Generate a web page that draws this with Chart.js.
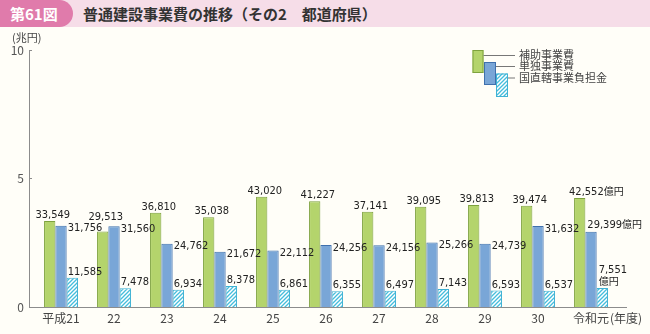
<!DOCTYPE html>
<html lang="ja">
<head>
<meta charset="utf-8">
<title>普通建設事業費の推移（その2　都道府県）</title>
<script src="https://cdn.jsdelivr.net/npm/chart.js@4.4.1/dist/chart.umd.min.js"></script>
<style>
    html, body { margin: 0; padding: 0; background: #fffef8; }
    #wrap { position: relative; width: 650px; height: 334px; overflow: hidden; }
    #head { position: absolute; left: 0; top: 0; width: 650px; height: 27px; background: #f6dde8; z-index: 2; }
    #fig {
        position: absolute; left: 0; top: 0; width: 73px; height: 27px; box-sizing: border-box;
        padding-left: 10px; background: #e07bab; border-radius: 0 14px 14px 0;
        color: #fff; font: bold 15px "Noto Sans CJK JP"; line-height: 27px;
    }
    #ttl { position: absolute; left: 83px; top: 0; color: #333; font: bold 15px "Noto Sans CJK JP"; line-height: 27px; }
    #chart { position: absolute; left: 0; top: 0; }
</style>
</head>
<body>
<div id="wrap">
    <div id="head">
        <div id="fig">第61図</div>
        <div id="ttl">普通建設事業費の推移（その2　都道府県）</div>
    </div>
    <canvas id="chart" width="650" height="334"></canvas>
</div>
<script>
"use strict";

// 年度
const categories = ["平成21", "22", "23", "24", "25", "26", "27", "28", "29", "30", "令和元"];
// 億円
const hojo = [33549, 29513, 36810, 35038, 43020, 41227, 37141, 39095, 39813, 39474, 42552];
const tandoku = [31756, 31560, 24762, 21672, 22112, 24256, 24156, 25266, 24739, 31632, 29399];
const chokkatsu = [11585, 7478, 6934, 8378, 6861, 6355, 6497, 7143, 6593, 6537, 7551];
const seriesNames = ["補助事業費", "単独事業費", "国直轄事業負担金"];
// 兆円
const yTicks = [0, 5, 10];

const NUM_FONT = '11px "Liberation Sans Narrow", "DejaVu Sans Condensed", sans-serif';
const JP_FONT = '"Noto Sans CJK JP", sans-serif';

// diagonal stripes for 国直轄事業負担金
const makeHatch = () => {
    const c = document.createElement("canvas");
    c.width = c.height = 4;
    const g = c.getContext("2d");
    g.fillStyle = "#ffffff";
    g.fillRect(0, 0, 4, 4);
    g.strokeStyle = "#45bddc";
    g.lineWidth = 1.3;
    g.beginPath();
    g.moveTo(-1, 5); g.lineTo(5, -1);
    g.moveTo(-1, 1); g.lineTo(1, -1);
    g.moveTo(3, 5); g.lineTo(5, 3);
    g.stroke();
    return g.createPattern(c, "repeat");
};

const toPoints = arr => arr.map((v, i) => ({ x: i, y: v }));

// 数値ラベル（最終年度のみ単位付き）
const valueLabels = {
    id: "valueLabels",
    afterDatasetsDraw(chart) {
        const ctx = chart.ctx;
        ctx.save();
        ctx.fillStyle = "#222";
        ctx.textBaseline = "alphabetic";
        ctx.textAlign = "left";
        const put = (num, unit, x, y, align) => {
            ctx.font = NUM_FONT;
            const w1 = ctx.measureText(num).width;
            ctx.font = "10px " + JP_FONT;
            const w2 = unit ? ctx.measureText(unit).width : 0;
            const sx = align === "center" ? x - (w1 + w2) / 2 : x;
            ctx.font = NUM_FONT;
            ctx.fillText(num, sx, y);
            if (unit) {
                ctx.font = "10px " + JP_FONT;
                ctx.fillText(unit, sx + w1, y);
            }
        };
        const blueBars = chart.getDatasetMeta(1).data;
        chart.data.datasets.forEach((ds, di) => {
            chart.getDatasetMeta(di).data.forEach((bar, i) => {
                const last = i === categories.length - 1;
                const txt = ds.data[i].y.toLocaleString("en-US");
                const left = bar.x - bar.width / 2;
                const right = bar.x + bar.width / 2;
                if (di === 0) {
                    // 単独の方が高い年はその数値の上へ逃がす
                    const top = Math.min(bar.y, blueBars[i].y - 3);
                    if (last) put(txt, "億円", left - 5, top - 3, "left");
                    else put(txt, "", bar.x + 3, top - 3, "center");
                } else if (di === 1) {
                    if (last) put(txt, "億円", left + 2, bar.y - 4, "left");
                    else put(txt, "", right + 1, bar.y + 5.5, "left");
                } else if (last) {
                    put(txt, "", left + 2, bar.y - 15, "left");
                    ctx.font = "10px " + JP_FONT;
                    ctx.fillText("億円", left + 2, bar.y - 3);
                } else {
                    put(txt, "", left + 1, bar.y - 3, "left");
                }
            });
        });
        ctx.restore();
    }
};

// 凡例・単位・（年度）
const extras = {
    id: "extras",
    afterDraw(chart) {
        const ctx = chart.ctx;
        ctx.save();
        ctx.fillStyle = "#444";
        ctx.font = "11px " + JP_FONT;
        ctx.textBaseline = "middle";
        ctx.textAlign = "left";
        ctx.fillText("(兆円)", 12, 38);

        // 年度
        const xs = chart.scales.x;
        const lastX = xs.getPixelForValue(categories.length - 1);
        ctx.font = "12px " + JP_FONT;
        const w = ctx.measureText(categories[categories.length - 1]).width;
        ctx.fillText("(年度)", lastX + w / 2 + 1, xs.top + 4 + 7.2);

        // legend
        const boxes = [
            { x: 472.5, y: 50, w: 11, h: 23, ly: 55 },
            { x: 484, y: 62, w: 12, h: 23, ly: 66 },
            { x: 496, y: 73.5, w: 12, h: 23.5, ly: 77.5 }
        ];
        ctx.font = "11px " + JP_FONT;
        boxes.forEach((b, i) => {
            const ds = chart.data.datasets[i];
            ctx.fillStyle = ds.backgroundColor;
            ctx.fillRect(b.x, b.y, b.w, b.h);
            ctx.strokeStyle = ds.borderColor;
            ctx.lineWidth = 1;
            ctx.strokeRect(b.x + 0.5, b.y + 0.5, b.w - 1, b.h - 1);
            ctx.strokeStyle = "#777";
            ctx.beginPath();
            ctx.moveTo(b.x + b.w, b.ly + 0.5);
            ctx.lineTo(515, b.ly + 0.5);
            ctx.stroke();
            ctx.fillStyle = "#444";
            ctx.fillText(seriesNames[i], 519, b.ly);
        });
        ctx.restore();
    }
};

const renderChart = () => {
    const ctx = document.getElementById("chart");
    new Chart(ctx, {
        type: "bar",
        data: {
            datasets: [
                { label: seriesNames[0], data: toPoints(hojo), backgroundColor: "#b4d46c", borderColor: "#7ea23e", borderWidth: 1 },
                { label: seriesNames[1], data: toPoints(tandoku), backgroundColor: "#79a6d7", borderColor: "#3f70ad", borderWidth: 1 },
                { label: seriesNames[2], data: toPoints(chokkatsu), backgroundColor: makeHatch(), borderColor: "#3fb2d4", borderWidth: 1 }
            ]
        },
        options: {
            responsive: false,
            animation: false,
            events: [],
            categoryPercentage: 0.64,
            barPercentage: 1,
            layout: { padding: { left: 0, top: 50, right: 24, bottom: 0 } },
            plugins: { legend: { display: false }, tooltip: { enabled: false } },
            scales: {
                x: {
                    type: "linear",
                    offset: false,
                    min: -0.604,
                    max: 10.66,
                    afterFit: s => { s.height = 26.5; },
                    afterBuildTicks: s => { s.ticks = categories.map((c, i) => ({ value: i })); },
                    grid: { display: false, drawTicks: false, offset: false },
                    border: { display: true, color: "#8c8c8c" },
                    ticks: {
                        autoSkip: false,
                        maxRotation: 0,
                        padding: 4,
                        color: "#444",
                        font: { family: JP_FONT, size: 12 },
                        callback: v => categories[v] ?? ""
                    }
                },
                y: {
                    min: 0,
                    max: 100000,
                    afterFit: s => { s.width = 29; },
                    afterBuildTicks: s => { s.ticks = yTicks.map(v => ({ value: v * 10000 })); },
                    grid: { drawOnChartArea: false, tickLength: -3, color: "#8c8c8c" },
                    border: { display: true, color: "#8c8c8c" },
                    ticks: {
                        padding: 8,
                        color: "#555",
                        font: { family: JP_FONT, size: 12 },
                        callback: v => v / 10000
                    }
                }
            }
        },
        plugins: [valueLabels, extras]
    });
};

document.addEventListener("DOMContentLoaded", renderChart);
</script>
</body>
</html>
